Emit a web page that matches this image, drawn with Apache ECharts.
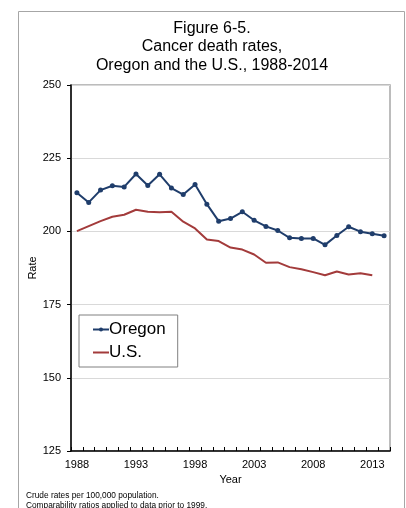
<!DOCTYPE html>
<html>
<head>
<meta charset="utf-8">
<script src="https://cdn.jsdelivr.net/npm/echarts@6/dist/echarts.min.js"></script>
<style>
  html, body { margin: 0; padding: 0; background: #fff; }
  #chart { width: 406px; height: 508px; }
</style>
</head>
<body>
<div id="chart"></div>
<script>
// years on the category axis
const years = []
for (let y = 1988; y <= 2014; y++) years.push(String(y))

// crude cancer death rates per 100,000
const oregon = [213.2, 209.9, 214.1, 215.6, 215.2, 219.6, 215.7, 219.5, 214.8, 212.6,
  216.0, 209.3, 203.5, 204.4, 206.7, 203.8, 201.7, 200.3, 197.8, 197.6,
  197.6, 195.4, 198.6, 201.6, 199.9, 199.2, 198.5]
const us = [200.1, 201.8, 203.5, 205.0, 205.7, 207.4, 206.7, 206.5, 206.7, 203.3,
  201.0, 197.2, 196.7, 194.5, 193.8, 192.1, 189.3, 189.4, 187.8, 187.1,
  186.1, 185.0, 186.3, 185.3, 185.7, 185.0, null]

const titleLines = ['Figure 6-5.', 'Cancer death rates,', 'Oregon and the U.S., 1988-2014']
const notes = ['Crude rates per 100,000 population.', 'Comparability ratios applied to data prior to 1999.']

const font = '"Liberation Sans", Arial, sans-serif'
const chart = echarts.init(document.getElementById('chart'), null, { renderer: 'canvas' })

const option = {
  animation: false,
  textStyle: { fontFamily: font, color: '#000' },
  graphic: [
    {
      type: 'rect',
      shape: { x: 18.5, y: 11.5, width: 386, height: 520 },
      style: { fill: 'none', stroke: '#a6a6a6', lineWidth: 1 },
      silent: true
    },
    {
      type: 'text',
      x: 212, y: 19,
      style: {
        text: titleLines.join('\n'),
        fontFamily: font, fontSize: 16, lineHeight: 18.5,
        align: 'center', verticalAlign: 'top', fill: '#000'
      }
    },
    {
      type: 'text',
      x: 26, y: 490,
      style: {
        text: notes.join('\n'),
        fontFamily: font, fontSize: 8.3, lineHeight: 10.5,
        align: 'left', verticalAlign: 'top', fill: '#000'
      }
    }
  ],
  grid: {
    left: 71, right: 16, top: 85, bottom: 57,
    show: true, borderColor: '#a6a6a6', borderWidth: 1.5, backgroundColor: '#fff'
  },
  legend: {
    orient: 'vertical',
    left: 79, top: 315,
    padding: [6, 12, 6, 13],
    itemWidth: 16, itemHeight: 5, itemGap: 6,
    backgroundColor: '#fff',
    borderColor: '#808080', borderWidth: 1, borderRadius: 0,
    textStyle: { fontFamily: font, fontSize: 17, color: '#000', padding: [0, 0, 0, -5] },
    data: ['Oregon', { name: 'U.S.', itemStyle: { opacity: 0 } }]
  },
  xAxis: {
    type: 'category',
    data: years,
    boundaryGap: true,
    name: 'Year',
    nameLocation: 'middle',
    nameGap: 22,
    nameTextStyle: { fontSize: 11, color: '#000' },
    axisLine: { lineStyle: { color: '#000', width: 1.5 } },
    axisTick: { show: true, interval: 0, inside: true, length: 4, lineStyle: { color: '#000' } },
    axisLabel: { interval: 4, fontSize: 11, color: '#000', margin: 8 },
    splitLine: { show: false }
  },
  yAxis: {
    type: 'value',
    min: 125, max: 250, interval: 25,
    name: 'Rate',
    nameLocation: 'middle',
    nameRotate: 90,
    nameGap: 33,
    nameMoveOverlap: false,
    nameTextStyle: { fontSize: 11, color: '#000' },
    axisLine: { show: true, lineStyle: { color: '#000', width: 1.5 } },
    axisTick: { show: true, length: 4, lineStyle: { color: '#000' } },
    axisLabel: { fontSize: 11, color: '#000', margin: 10 },
    splitLine: { show: true, lineStyle: { color: '#d9d9d9', width: 1 } }
  },
  series: [
    {
      name: 'Oregon',
      type: 'line',
      data: oregon,
      symbol: 'circle',
      symbolSize: 5,
      lineStyle: { color: '#1f3d6b', width: 2 },
      itemStyle: { color: '#1f3d6b' },
      z: 3
    },
    {
      name: 'U.S.',
      type: 'line',
      data: us,
      symbol: 'none',
      lineStyle: { color: '#a33b3b', width: 2 },
      itemStyle: { color: '#a33b3b' },
      z: 2
    }
  ]
}

chart.setOption(option)
</script>
</body>
</html>
